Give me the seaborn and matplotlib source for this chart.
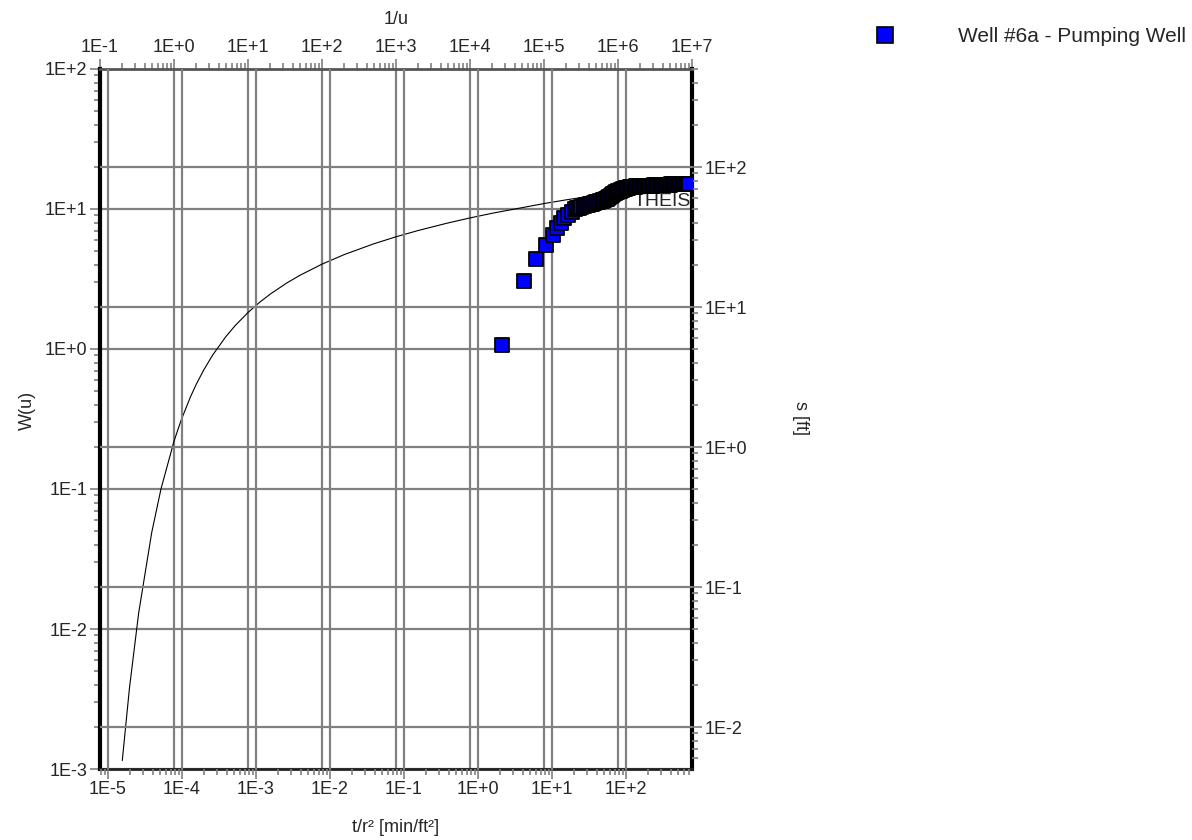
import numpy as np
import matplotlib
matplotlib.use("Agg")
import matplotlib.pyplot as plt
from matplotlib.ticker import FuncFormatter
from matplotlib.lines import Line2D
import seaborn as sns

# Theis type curve: W(u) against 1/u
inv_u = [0.2, 0.25, 0.3333, 0.5, 0.6667, 1, 1.25, 1.667, 2, 2.5, 3.333, 5, 6.667,
         10, 14.29, 20, 33.33, 50, 100, 200, 500, 1e3, 2e3, 5e3, 1e4, 2e4, 1e5,
         2e5, 1e6, 2e6, 1e7]
w_u = [1.148e-3, 3.779e-3, 1.305e-2, 4.890e-2, 0.1000, 0.2194, 0.3106, 0.4544,
       0.5598, 0.7024, 0.9057, 1.2227, 1.4645, 1.8229, 2.1508, 2.4679, 2.9591,
       3.3547, 4.0379, 4.7261, 5.6394, 6.3315, 7.0242, 7.9402, 8.6332, 9.3263,
       10.9357, 11.6289, 13.2383, 13.9315, 15.5409]

# Well #6a - Pumping Well: t/r2 [min/ft2] and drawdown s [ft]
t_r2 = [2.13, 4.23, 6.14, 8.37, 10.2, 11.6, 13.1, 14.7, 16.3, 18.5, 20.5,
        22, 23.5, 25, 27, 29, 31, 33, 35, 37, 39.5, 42, 45,
        47, 49, 51, 53, 55, 57, 59.5, 62, 64.5, 67, 70, 73, 76, 79, 82, 85.5,
        89, 92.5, 96, 100, 104, 108, 112.5, 117, 122, 127, 132, 137, 143, 149,
        155, 161, 168, 175, 182, 190, 198, 206, 214, 223, 232, 242, 252, 262,
        273, 284, 296, 308, 321, 334, 348, 362, 377, 393, 409, 426, 444, 462,
        481, 501, 522, 543, 566, 589, 613, 639, 665, 692, 710]
s_ft = [5.35, 15.4, 21.9, 27.7, 32.7, 36.5, 39.6, 43.0, 45.4, 48.0, 50.1,
        50.7, 51.3, 51.9, 52.6, 53.2, 53.8, 54.3, 54.8, 55.3, 56.0, 56.6, 57.2,
        57.5, 57.9, 58.3, 58.6, 59.0, 59.7, 60.8, 61.8, 63.0, 64.0, 65.0, 65.8,
        66.4, 67.1, 67.8, 68.4, 68.9, 69.3, 69.8, 70.3, 70.8, 71.1, 71.4, 71.8,
        72.0, 72.3, 72.4, 72.6, 72.6, 72.8, 72.8, 72.9, 72.9, 73.0, 73.1, 73.1,
        73.3, 73.3, 73.5, 73.5, 73.6, 73.8, 74.0, 74.0, 74.1, 74.3, 74.3, 74.5,
        74.5, 74.6, 74.6, 74.7, 74.8, 74.8, 75.0, 75.0, 75.0, 75.1, 75.2, 75.2,
        75.2, 75.2, 75.2, 75.2, 75.2, 75.2, 75.2, 75.2, 75.3]

sns.set_style("white")
plt.rcParams["font.family"] = ["Liberation Sans", "DejaVu Sans"]
plt.rcParams["font.size"] = 13

W, H = 1192, 840
fig = plt.figure(figsize=(W / 100, H / 100), dpi=100)
rect = [100 / W, 1 - 769 / H, 592 / W, 700 / H]

# axes for the type curve: 1/u on top, W(u) on the left
ax1 = fig.add_axes(rect, label="theis")
# axes for the data: t/r2 on the bottom, s on the right
ax2 = fig.add_axes(rect, label="data", facecolor="none")

grid_col = "#808080"
fmt = FuncFormatter(lambda v, p: "1E%+d" % int(round(np.log10(v))))

ax1.set_xscale("log")
ax1.set_yscale("log")
ax1.set_xlim(0.1, 1e7)
ax1.set_ylim(1e-3, 1e2)
sns.lineplot(x=inv_u, y=w_u, ax=ax1, color="black", lw=0.8, sort=False, zorder=2)
ax1.text(10 ** 6.98, 11.3, "THEIS", ha="right", va="center", fontsize=14, zorder=1)

ax2.set_xscale("log")
ax2.set_yscale("log")
ax2.set_xlim(10 ** -5.108, 10 ** 2.892)
ax2.set_ylim(10 ** -2.3, 10 ** 2.7)
sns.scatterplot(x=t_r2, y=s_ft, ax=ax2, marker="s", s=115, color="#0000ff",
                edgecolor="black", linewidth=1.3, legend=False, zorder=3)

for ax in (ax1, ax2):
    ax.grid(True, which="major", color=grid_col, lw=1.6)
    ax.xaxis.set_major_formatter(fmt)
    ax.yaxis.set_major_formatter(fmt)
    ax.tick_params(which="both", direction="out", color=grid_col, width=1.2,
                   labelsize=13, pad=2)
    ax.tick_params(which="major", length=7)
    ax.tick_params(which="minor", length=4)
    ax.set_xlabel("")
    ax.set_ylabel("")

ax1.set_axisbelow(True)
ax1.xaxis.tick_top()
ax1.yaxis.tick_left()
ax2.xaxis.tick_bottom()
ax2.yaxis.tick_right()
for sp in ax2.spines.values():
    sp.set_visible(False)

ax1.spines["left"].set_linewidth(3)
ax1.spines["right"].set_linewidth(3)
ax1.spines["left"].set_color("black")
ax1.spines["right"].set_color("black")
ax1.spines["top"].set_linewidth(2)
ax1.spines["top"].set_color("#555555")
ax1.spines["bottom"].set_linewidth(2)
ax1.spines["bottom"].set_color("#222222")

fig.text(396 / W, 1 - 19 / H, "1/u", ha="center", va="center", fontsize=13)
fig.text(396 / W, 1 - 828 / H, "t/r² [min/ft²]", ha="center", va="center", fontsize=13)
fig.text(27 / W, 1 - 410 / H, "W(u)", ha="center", va="center", rotation=90, fontsize=13)
fig.text(800 / W, 1 - 418 / H, "s [ft]", ha="center", va="center", rotation=270, fontsize=13)

handle = Line2D([], [], ls="none", marker="s", markersize=11, mfc="#0000ff",
                mec="black", mew=1.2)
fig.legend(handles=[handle], labels=["Well #6a - Pumping Well"], loc="center right",
           bbox_to_anchor=(1186 / W, 1 - 37 / H), frameon=False, fontsize=15,
           handletextpad=2.5, borderaxespad=0, borderpad=0)

fig.savefig("out.png", dpi=100)
